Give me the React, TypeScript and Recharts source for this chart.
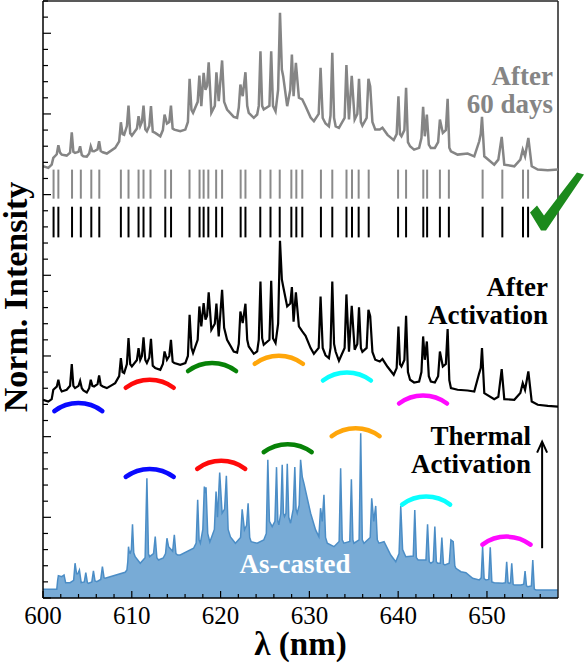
import React from "react";
import {
  ComposedChart,
  Area,
  Line,
  Scatter,
  XAxis,
  YAxis,
  ReferenceLine,
  ReferenceDot,
} from "recharts";

const W = 584;
const H = 665;
const LEFT = 43;
const RIGHT = 26;
const TOP = 1;
const XAXIS_H = 67;
const PLOT_BOTTOM = H - XAXIS_H;
const X_MIN = 600;
const X_MAX = 658;
const SERIF = "'Liberation Serif'";

// As-casted spectrum (filled)
const castLambda = [
  600.0, 601.55, 601.65, 601.73, 602.11, 602.37, 602.55, 603.05, 603.45, 603.61,
  603.78, 603.92, 604.1, 604.3, 604.65, 604.82, 605.0, 605.11, 605.5, 605.68,
  605.86, 606.06, 606.5, 606.69, 606.88, 607.0, 607.56, 609.25, 609.45, 609.55,
  609.63, 609.72, 609.82, 609.95, 610.08, 610.22, 610.38, 610.95, 611.5, 611.7,
  611.88, 612.0, 612.45, 612.64, 612.82, 613.01, 613.54, 613.8, 613.96, 614.14,
  614.6, 614.79, 614.97, 615.16, 615.46, 616.96, 617.25, 617.42, 617.58, 617.72,
  618.0, 618.17, 618.27, 618.36, 618.55, 618.79, 619.3, 619.49, 619.65, 619.9,
  620.17, 620.45, 620.65, 620.85, 621.11, 621.67, 622.25, 622.43, 622.69, 622.93,
  623.1, 623.28, 623.44, 624.12, 624.86, 625.15, 625.32, 625.5, 625.81, 626.12,
  626.3, 626.45, 626.56, 626.78, 626.94, 627.08, 627.2, 627.36, 627.51, 627.68,
  627.88, 628.18, 628.36, 628.5, 628.63, 628.85, 629.01, 629.2, 629.38, 630.14,
  630.7, 631.07, 631.26, 631.45, 631.64, 631.82, 632.02, 632.77, 633.35, 633.52,
  633.7, 633.89, 634.55, 634.73, 634.9, 635.02, 635.6, 635.78, 635.96, 636.15,
  636.85, 637.02, 637.25, 637.47, 637.65, 637.84, 638.41, 639.16, 639.73, 640.1,
  640.29, 640.5, 640.86, 641.7, 641.87, 642.05, 642.25, 643.13, 643.31, 643.5,
  643.68, 643.95, 644.13, 644.3, 644.44, 644.75, 644.92, 645.1, 645.26, 645.75,
  645.94, 646.2, 646.38, 646.5, 647.07, 647.63, 648.39, 649.13, 649.35, 649.51,
  649.68, 649.89, 650.2, 650.37, 650.55, 650.82, 651.77, 652.07, 652.22, 652.38,
  652.52, 652.65, 652.79, 652.95, 653.08, 653.84, 654.14, 654.29, 654.45, 654.59,
  655.0, 655.16, 655.33, 655.53, 658.0,
];
const castInt = [
  0.108, 0.108, 0.22, 0.277, 0.264, 0.285, 0.19, 0.19, 0.22, 0.431,
  0.3, 0.3, 0.347, 0.19, 0.2, 0.314, 0.19, 0.182, 0.2, 0.335,
  0.21, 0.202, 0.23, 0.388, 0.25, 0.244, 0.264, 0.319, 0.347, 0.45,
  0.636, 0.56, 0.555, 0.6, 0.914, 0.56, 0.512, 0.431, 0.5, 1.485,
  0.55, 0.512, 0.55, 0.761, 0.5, 0.471, 0.496, 0.55, 0.741, 0.636,
  0.58, 0.782, 0.55, 0.533, 0.533, 0.617, 0.68, 1.216, 0.72, 0.679,
  0.85, 1.381, 1.3, 1.373, 0.8, 0.695, 0.85, 1.319, 1.0, 1.555,
  1.051, 1.1, 1.514, 0.85, 0.757, 0.679, 0.75, 1.1, 0.844, 0.9,
  1.175, 0.75, 0.698, 0.679, 0.72, 0.8, 1.712, 0.95, 0.885, 0.95,
  1.622, 0.95, 0.906, 1.05, 1.65, 1.05, 1.009, 1.05, 1.663, 1.0,
  0.927, 1.1, 1.622, 1.1, 1.051, 1.15, 1.712, 1.5, 1.423, 1.051,
  0.844, 0.761, 1.113, 0.95, 1.278, 0.75, 0.679, 0.636, 0.7, 1.609,
  0.72, 0.679, 0.7, 1.473, 0.72, 0.679, 0.72, 2.043, 0.72, 0.679,
  0.75, 1.237, 0.95, 1.141, 0.72, 0.679, 0.698, 0.533, 0.45, 0.55,
  1.141, 0.6, 0.512, 0.52, 1.092, 0.5, 0.471, 0.47, 0.914, 0.45,
  0.431, 0.45, 0.885, 0.45, 0.431, 0.43, 0.748, 0.42, 0.409, 0.43,
  0.72, 0.698, 0.4, 0.368, 0.326, 0.314, 0.244, 0.223, 0.25, 0.636,
  0.24, 0.223, 0.23, 0.629, 0.2, 0.19, 0.182, 0.19, 0.45, 0.19,
  0.182, 0.19, 0.431, 0.17, 0.161, 0.161, 0.17, 0.335, 0.15, 0.14,
  0.15, 0.471, 0.11, 0.099, 0.099,
];

// after activation / after 60 days share the same wavelength points
const actLambda = [
  600.0, 600.6, 600.98, 601.16, 601.55, 601.73, 601.92, 602.11, 602.67, 603.05,
  603.24, 603.42, 603.61, 604.0, 604.18, 604.37, 604.55, 604.93, 605.2, 605.38,
  605.56, 605.76, 606.14, 606.32, 606.5, 606.74, 607.19, 608.13, 608.58, 608.77,
  608.96, 609.14, 609.45, 609.63, 609.82, 610.01, 610.58, 610.76, 610.95, 611.14,
  611.32, 611.52, 611.7, 611.97, 612.16, 612.36, 612.64, 613.21, 613.5, 613.69,
  613.96, 614.22, 614.41, 614.6, 614.79, 615.46, 616.03, 616.32, 616.51, 616.72,
  616.9, 617.42, 617.61, 617.83, 618.09, 618.3, 618.48, 618.66, 618.96, 619.35,
  619.53, 619.79, 620.17, 620.4, 620.73, 621.48, 621.86, 622.05, 622.23, 622.49,
  622.8, 623.0, 623.17, 623.74, 624.12, 624.3, 624.49, 624.68, 624.86, 625.5,
  625.7, 625.9, 626.19, 626.48, 626.69, 626.9, 627.05, 627.5, 627.85, 628.03,
  628.22, 628.48, 628.82, 629.2, 629.57, 630.14, 630.51, 631.05, 631.26, 631.5,
  631.82, 632.2, 632.38, 632.58, 632.78, 632.96, 633.33, 633.97, 634.17, 634.46,
  634.77, 635.1, 635.4, 635.59, 635.8, 635.97, 636.45, 636.65, 636.85, 637.1,
  637.42, 637.93, 638.23, 638.8, 639.5, 639.83, 640.03, 640.2, 640.37, 640.7,
  640.89, 641.1, 641.34, 641.79, 642.36, 642.62, 642.81, 643.0, 643.23, 643.45,
  643.68, 644.13, 644.5, 644.7, 645.03, 645.37, 645.57, 645.76, 645.94, 646.69,
  647.82, 648.57, 649.13, 649.3, 649.44, 649.7, 650.82, 651.28, 651.66, 651.95,
  653.08, 653.76, 654.03, 654.29, 654.66, 655.04, 655.72, 656.85, 658.0,
];
const actInt = [
  2.457, 2.435, 2.465, 2.581, 2.62, 2.705, 2.6, 2.56, 2.581, 2.63,
  2.9, 2.63, 2.602, 2.63, 2.692, 2.6, 2.572, 2.547, 2.6, 2.705,
  2.63, 2.622, 2.65, 2.758, 2.64, 2.622, 2.602, 2.664, 2.75, 2.974,
  2.8, 2.788, 2.9, 3.222, 2.9, 2.87, 2.95, 3.098, 2.95, 3.0,
  3.23, 2.95, 2.912, 2.98, 3.213, 2.88, 2.85, 2.829, 2.9, 3.056,
  2.953, 3.0, 3.201, 2.93, 2.912, 2.891, 2.912, 3.0, 3.511, 3.1,
  3.036, 3.2, 3.614, 3.366, 3.656, 3.45, 3.5, 3.788, 3.325, 3.4,
  3.648, 3.242, 3.821, 3.35, 3.201, 3.056, 3.043, 3.15, 3.552, 3.408,
  3.648, 3.2, 3.118, 3.027, 3.056, 3.2, 3.924, 3.22, 3.139, 3.2,
  3.933, 3.22, 3.16, 3.4, 4.429, 3.95, 3.862, 3.614, 3.65, 3.855,
  3.424, 3.79, 3.366, 3.304, 3.251, 3.098, 3.027, 3.1, 3.738, 3.1,
  3.009, 2.974, 3.1, 3.924, 3.15, 3.052, 2.94, 3.1, 3.763, 3.052,
  3.623, 3.077, 3.15, 3.604, 3.1, 3.052, 3.1, 3.573, 3.493, 3.05,
  2.953, 2.932, 2.962, 2.866, 2.767, 2.85, 3.366, 2.9, 2.87, 2.95,
  3.499, 2.8, 2.705, 2.671, 2.684, 2.8, 3.242, 2.953, 3.18, 2.75,
  2.684, 2.671, 2.75, 3.056, 2.87, 2.9, 3.334, 2.7, 2.602, 2.581,
  2.572, 2.56, 2.788, 2.85, 3.098, 2.54, 2.465, 2.494, 2.837, 2.465,
  2.457, 2.54, 2.664, 2.581, 2.808, 2.435, 2.395, 2.382, 2.373,
];
const agedInt = [
  5.351, 5.331, 5.372, 5.455, 5.5, 5.612, 5.52, 5.496, 5.484, 5.52,
  5.773, 5.53, 5.517, 5.53, 5.599, 5.49, 5.475, 5.471, 5.51, 5.599,
  5.54, 5.537, 5.56, 5.661, 5.54, 5.525, 5.509, 5.579, 5.66, 5.897,
  5.75, 5.741, 5.85, 6.104, 5.76, 5.732, 5.82, 5.971, 5.85, 5.9,
  6.104, 5.81, 5.785, 5.85, 6.096, 5.78, 5.765, 5.723, 5.8, 5.993,
  5.881, 5.9, 6.104, 5.82, 5.806, 5.785, 5.806, 5.9, 6.435, 6.05,
  6.014, 6.15, 6.476, 6.096, 6.51, 6.3, 6.35, 6.641, 6.014, 6.1,
  6.517, 6.158, 6.663, 6.15, 6.055, 5.964, 5.952, 6.08, 6.365, 6.22,
  6.517, 6.1, 6.014, 5.952, 5.993, 6.1, 6.778, 6.1, 6.055, 6.1,
  6.778, 6.1, 6.033, 6.3, 7.254, 6.55, 6.468, 6.096, 6.3, 6.737,
  6.22, 6.632, 6.2, 6.179, 6.096, 5.955, 5.909, 6.0, 6.572, 5.95,
  5.881, 5.847, 5.98, 6.758, 5.95, 5.847, 5.828, 5.95, 6.607, 5.931,
  6.473, 5.931, 6.0, 6.435, 5.9, 5.856, 5.95, 6.435, 6.34, 5.9,
  5.806, 5.806, 5.828, 5.741, 5.676, 5.75, 6.22, 5.75, 5.723, 5.8,
  6.324, 5.65, 5.599, 5.558, 5.579, 5.7, 6.088, 5.723, 5.993, 5.62,
  5.579, 5.579, 5.65, 5.931, 5.765, 5.8, 6.187, 5.58, 5.537, 5.496,
  5.509, 5.475, 5.661, 5.75, 5.964, 5.475, 5.372, 5.434, 5.716, 5.372,
  5.351, 5.434, 5.558, 5.475, 5.703, 5.351, 5.31, 5.302, 5.31,
];

// emission line positions (stick patterns)
const lineLambda = [
  601.19, 601.73, 603.27, 604.26, 605.44, 606.34, 608.77, 609.63, 610.76, 611.32,
  612.11, 613.77, 614.42, 616.5, 617.63, 618.09, 618.62, 619.5, 620.17, 622.26,
  622.8, 624.47, 625.62, 626.66, 627.97, 628.53, 629.2, 631.3, 632.58, 634.18,
  634.8, 635.55, 636.68, 639.99, 640.89, 642.83, 643.26, 644.7, 645.71, 649.51,
  651.73, 654.06, 654.63,
];
const agedStick = [4.95, 5.31];
const actStick = [4.47, 4.85];

// coloured caps over the peak groups
const arcColors = ["#0a0aff", "#ff0a0a", "#078207", "#ffa60a", "#0affff", "#ff0aff"];
const actArcLambda = [603.98, 612.02, 619.04, 626.56, 634.23, 642.8];
const actArcTop = [2.416, 2.705, 2.912, 3.002, 2.795, 2.51];
const castArcLambda = [612.02, 620.07, 627.56, 635.21, 643.15, 652.2];
const castArcTop = [1.6, 1.7, 1.907, 2.105, 1.257, 0.761];

const xTicks = Array.from({ length: 29 }, (_, i) => 600 + i * 2);
const xLabels = [600, 610, 620, 630, 640, 650];
const yTicks = Array.from({ length: 38 }, (_, i) => Math.round(i * 2) / 10);

const castData = castLambda.map((x, i) => ({ x, y: castInt[i] }));
const actData = actLambda.map((x, i) => ({ x, y: actInt[i] }));
const agedData = actLambda.map((x, i) => ({ x, y: agedInt[i] }));
const arcData = [
  ...actArcLambda.map((x, i) => ({ x, y: actArcTop[i], color: arcColors[i] })),
  ...castArcLambda.map((x, i) => ({ x, y: castArcTop[i], color: arcColors[i] })),
];

const isMajor = (v: number) => Math.abs(v - Math.round(v)) < 1e-6;
const xPix = (v: number) => LEFT + ((v - X_MIN) / (X_MAX - X_MIN)) * (W - LEFT - RIGHT);

const XTick = (p: any) => {
  const major = p.payload.value % 10 === 0;
  return <line x1={p.x} x2={p.x} y1={PLOT_BOTTOM} y2={PLOT_BOTTOM - (major ? 7 : 4)} stroke="#000" strokeWidth={1.2} />;
};

const YTick = (p: any) => {
  const major = isMajor(p.payload.value);
  return <line x1={LEFT} x2={LEFT + (major ? 8 : 5)} y1={p.y} y2={p.y} stroke="#000" strokeWidth={1.2} />;
};

const ArcShape = (p: any) => {
  const { cx, cy } = p;
  const color = p.payload?.color ?? p.color;
  const hw = 24;
  const sag = 8;
  const r = (hw * hw + sag * sag) / (2 * sag);
  return (
    <path
      d={`M${cx - hw},${cy + sag} A${r},${r} 0 0 1 ${cx + hw},${cy + sag}`}
      fill="none"
      stroke={color}
      strokeWidth={4.5}
      strokeLinecap="round"
    />
  );
};

const CheckMark = (p: any) => {
  const { cx, cy } = p;
  const pts = [[-28, 13], [-21, 6], [-14, 16], [19, -27], [26, -25], [-12, 31], [-17, 31]]
    .map(([dx, dy]) => `${cx + dx},${cy + dy}`)
    .join(" ");
  return <polygon points={pts} fill="#1c8a1c" />;
};

const ArrowHead = (p: any) => (
  <polyline
    points={`${p.cx - 5},${p.cy + 11} ${p.cx},${p.cy} ${p.cx + 5},${p.cy + 11}`}
    fill="none"
    stroke="#000"
    strokeWidth={2}
  />
);

// text annotations, in page pixels
const notes = [
  { text: "After", x: 553, y: 85, color: "#858585", anchor: "end" },
  { text: "60 days", x: 553, y: 113, color: "#858585", anchor: "end" },
  { text: "After", x: 548, y: 296, color: "#000", anchor: "end" },
  { text: "Activation", x: 548, y: 324, color: "#000", anchor: "end" },
  { text: "Thermal", x: 531, y: 445, color: "#000", anchor: "end" },
  { text: "Activation", x: 531, y: 473, color: "#000", anchor: "end" },
  { text: "As-casted", x: 295, y: 573, color: "#fff", anchor: "middle" },
];

const font = (size: number, bold: boolean): React.CSSProperties => ({
  fontFamily: SERIF,
  fontSize: size,
  fontWeight: bold ? "bold" : "normal",
});

export default function App() {
  return (
    <div style={{ position: "absolute", left: 0, top: 0, width: W, height: H, background: "#fff" }}>
      <ComposedChart width={W} height={H} margin={{ top: TOP, right: RIGHT, bottom: 0, left: 0 }}>
        <XAxis
          dataKey="x"
          type="number"
          domain={[X_MIN, X_MAX]}
          allowDataOverflow
          ticks={xTicks}
          interval={0}
          tick={XTick}
          tickLine={false}
          axisLine={{ stroke: "#000", strokeWidth: 1.5 }}
          height={XAXIS_H}
        />
        <YAxis
          type="number"
          domain={[0, 7.4]}
          allowDataOverflow
          ticks={yTicks}
          interval={0}
          tick={YTick}
          tickLine={false}
          axisLine={{ stroke: "#000", strokeWidth: 1.5 }}
          width={LEFT}
        />
        <ReferenceLine y={7.4} stroke="#222" strokeWidth={1.5} />
        <ReferenceLine x={X_MAX} stroke="#222" strokeWidth={1.5} />

        <Area
          data={castData}
          dataKey="y"
          type="linear"
          stroke="#4b8dc6"
          strokeWidth={1.5}
          fill="#78abd6"
          fillOpacity={1}
          baseValue={0}
          dot={false}
          activeDot={false}
          isAnimationActive={false}
        />
        <Line data={actData} dataKey="y" type="linear" stroke="#000" strokeWidth={2.2} dot={false} activeDot={false} isAnimationActive={false} />
        <Line data={agedData} dataKey="y" type="linear" stroke="#858585" strokeWidth={2.5} dot={false} activeDot={false} isAnimationActive={false} />

        {lineLambda.map((l) => (
          <ReferenceLine
            key={`g${l}`}
            segment={[{ x: l, y: agedStick[0] }, { x: l, y: agedStick[1] }]}
            stroke="#8a8a8a"
            strokeWidth={2}
          />
        ))}
        {lineLambda.map((l) => (
          <ReferenceLine
            key={`b${l}`}
            segment={[{ x: l, y: actStick[0] }, { x: l, y: actStick[1] }]}
            stroke="#000"
            strokeWidth={2}
          />
        ))}

        <Scatter data={arcData} dataKey="y" shape={ArcShape} isAnimationActive={false} />

        <ReferenceLine segment={[{ x: 656.21, y: 0.617 }, { x: 656.21, y: 1.925 }]} stroke="#000" strokeWidth={2} />
        <ReferenceDot x={656.21} y={1.939} r={0} ifOverflow="visible" shape={ArrowHead} />

        <ReferenceDot x={X_MAX} y={4.938} r={0} ifOverflow="visible" shape={CheckMark} />
      </ComposedChart>

      <svg width={W} height={H} style={{ position: "absolute", left: 0, top: 0, pointerEvents: "none" }}>
        {xLabels.map((v) => (
          <text key={v} x={xPix(v)} y={624} textAnchor="middle" style={font(25, false)} fill="#000">
            {v}
          </text>
        ))}
        <text x={(LEFT + W - RIGHT) / 2} y={655} textAnchor="middle" style={font(33, true)} fill="#000">
          λ (nm)
        </text>
        <text x={27} y={297} transform="rotate(-90 27 297)" textAnchor="middle" style={font(34, true)} fill="#000">
          Norm. Intensity
        </text>
        {notes.map((n, i) => (
          <text key={i} x={n.x} y={n.y} textAnchor={n.anchor as any} style={font(27, true)} fill={n.color}>
            {n.text}
          </text>
        ))}
      </svg>
    </div>
  );
}
